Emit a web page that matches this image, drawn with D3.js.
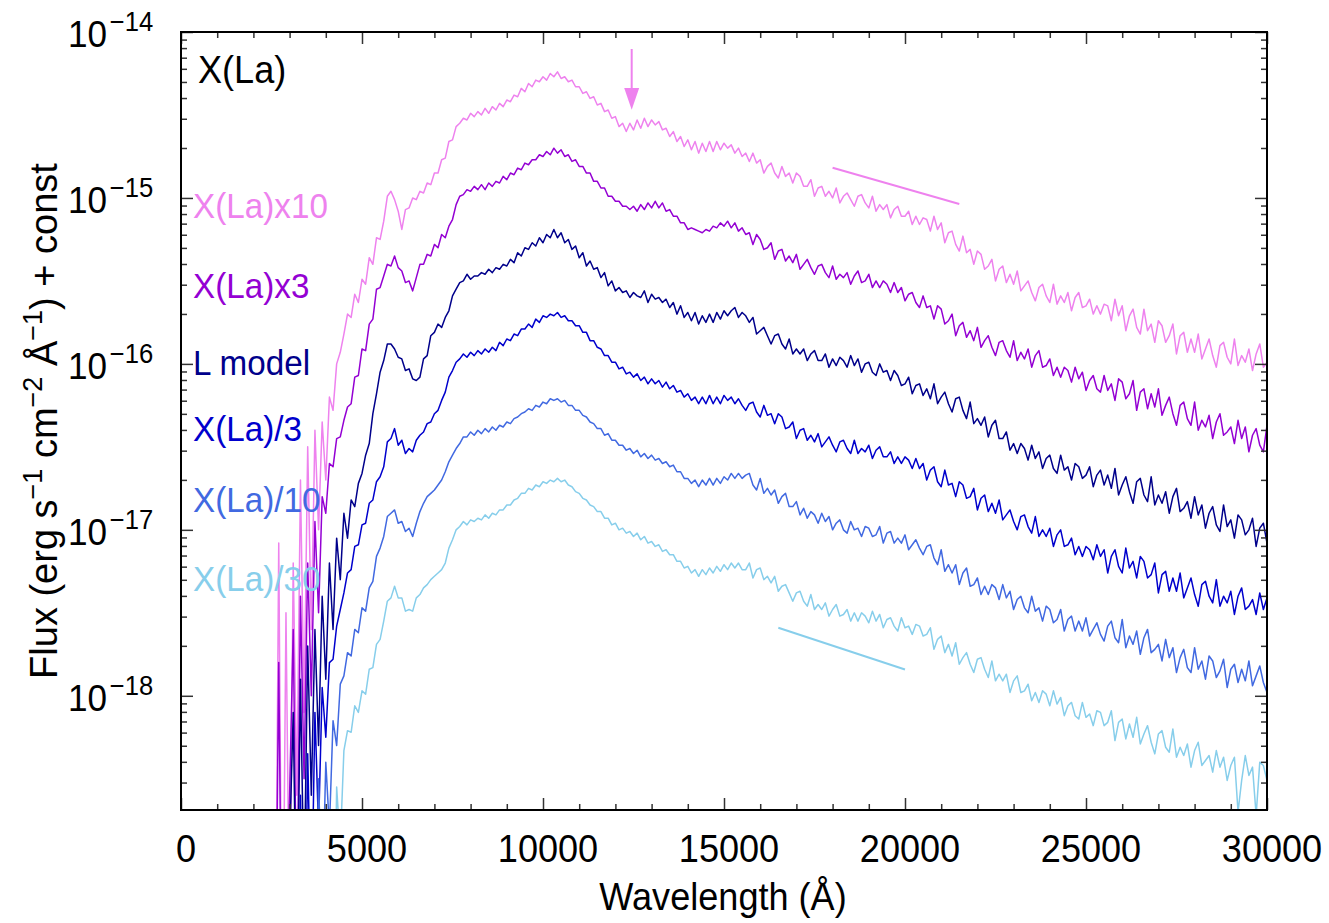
<!DOCTYPE html>
<html><head><meta charset="utf-8">
<script src="https://cdn.jsdelivr.net/npm/d3@7"></script>
<style>
body{margin:0;background:#fff;}
svg{display:block;font-family:"Liberation Sans",Arial,Helvetica,sans-serif;}
</style>
</head><body>
<svg id="chart" width="1329" height="923"></svg>
<script>
// ---------- DATA ----------
const WL_START = 2600, WL_END = 30000, WL_STEP = 100;   // wavelength grid (Å)
const xTickValues = [0, 5000, 10000, 15000, 20000, 25000, 30000];
const xTickLabels = ["0", "5000", "10000", "15000", "20000", "25000", "30000"];
const yTickExponents = [-14, -15, -16, -17, -18];
const seriesNames = ["X(La)x10", "X(La)x3", "L model", "X(La)/3", "X(La)/10", "X(La)/30"];
const seriesColors = ["#ee82ee", "#9400d3", "#00008b", "#0000cd", "#4169e1", "#87ceeb"];
const panelTitle = "X(La)";

// log10 flux (erg s^-1 cm^-2 Å^-1) + const, one value per grid wavelength
const logXLa10 = [
-20,-17.08,-20,-17.5,-19.5,-17.2,-18.6,-16.7,-18.1,-16.5,
-17.6,-16.4,-17.0,-16.35,-16.7,-16.2,-16.28,-16.0,-15.93,-15.82,
-15.70,-15.72,-15.58,-15.63,-15.49,-15.52,-15.36,-15.40,-15.24,-15.25,
-15.14,-14.99,-14.96,-15.01,-15.08,-15.19,-15.07,-15.06,-15.00,-15.01,
-14.96,-14.97,-14.91,-14.92,-14.85,-14.85,-14.77,-14.76,-14.66,-14.65,
-14.57,-14.55,-14.52,-14.53,-14.49,-14.51,-14.48,-14.50,-14.46,-14.49,
-14.45,-14.47,-14.43,-14.45,-14.41,-14.42,-14.38,-14.39,-14.34,-14.36,
-14.31,-14.33,-14.29,-14.30,-14.27,-14.29,-14.25,-14.27,-14.24,-14.28,
-14.27,-14.30,-14.29,-14.33,-14.33,-14.37,-14.36,-14.40,-14.39,-14.44,
-14.43,-14.48,-14.47,-14.52,-14.51,-14.57,-14.55,-14.60,-14.55,-14.59,
-14.53,-14.58,-14.52,-14.57,-14.53,-14.56,-14.54,-14.59,-14.58,-14.63,
-14.60,-14.66,-14.63,-14.69,-14.65,-14.71,-14.66,-14.73,-14.67,-14.72,
-14.66,-14.72,-14.66,-14.71,-14.67,-14.70,-14.68,-14.73,-14.70,-14.75,
-14.73,-14.78,-14.73,-14.79,-14.77,-14.85,-14.81,-14.79,-14.85,-14.88,
-14.81,-14.87,-14.85,-14.91,-14.85,-14.87,-14.93,-14.93,-14.89,-14.99,
-14.94,-14.93,-14.99,-14.96,-15.00,-14.94,-15.03,-14.99,-14.97,-15.01,
-15.05,-14.99,-14.98,-15.03,-15.06,-14.99,-15.08,-15.04,-15.07,-15.04,
-15.12,-15.07,-15.05,-15.11,-15.11,-15.08,-15.16,-15.11,-15.16,-15.12,
-15.13,-15.20,-15.11,-15.19,-15.15,-15.27,-15.21,-15.20,-15.28,-15.32,
-15.23,-15.33,-15.31,-15.40,-15.32,-15.34,-15.43,-15.41,-15.37,-15.50,
-15.43,-15.41,-15.51,-15.46,-15.52,-15.44,-15.56,-15.53,-15.50,-15.57,
-15.62,-15.54,-15.52,-15.59,-15.63,-15.52,-15.64,-15.59,-15.63,-15.57,
-15.68,-15.60,-15.57,-15.66,-15.65,-15.61,-15.70,-15.65,-15.70,-15.64,
-15.65,-15.74,-15.61,-15.71,-15.65,-15.80,-15.71,-15.67,-15.78,-15.82,
-15.67,-15.80,-15.76,-15.87,-15.74,-15.77,-15.87,-15.83,-15.76,-15.94,
-15.83,-15.81,-15.93,-15.85,-15.93,-15.82,-15.97,-15.91,-15.85,-15.95,
-16.02,-15.89,-15.87,-15.96,-16.00,-15.85,-16.01,-15.95,-15.99,-15.91,
-16.04,-15.94,-15.88,-16.02,-15.99
];
const logXLa3 = [
-20,-17.8,-20,-19.3,-18.6,-17.6,-19.4,-17.4,-18.5,-17.2,
-18.0,-16.95,-17.5,-16.8,-16.9,-16.6,-16.62,-16.45,-16.44,-16.34,
-16.26,-16.24,-16.08,-16.07,-15.91,-15.92,-15.76,-15.73,-15.55,-15.54,
-15.47,-15.40,-15.41,-15.35,-15.42,-15.44,-15.51,-15.50,-15.56,-15.48,
-15.40,-15.40,-15.34,-15.35,-15.28,-15.30,-15.22,-15.24,-15.17,-15.13,
-15.04,-14.99,-14.98,-14.95,-14.96,-14.93,-14.95,-14.92,-14.95,-14.91,
-14.93,-14.90,-14.91,-14.87,-14.89,-14.85,-14.86,-14.82,-14.83,-14.79,
-14.80,-14.77,-14.77,-14.74,-14.75,-14.72,-14.74,-14.70,-14.73,-14.71,
-14.75,-14.74,-14.78,-14.77,-14.81,-14.81,-14.85,-14.85,-14.90,-14.90,
-14.94,-14.94,-14.99,-14.99,-15.02,-15.02,-15.05,-15.05,-15.07,-15.05,
-15.08,-15.04,-15.07,-15.03,-15.06,-15.02,-15.06,-15.03,-15.08,-15.07,
-15.11,-15.11,-15.15,-15.15,-15.19,-15.18,-15.19,-15.20,-15.21,-15.19,
-15.20,-15.17,-15.18,-15.15,-15.17,-15.14,-15.18,-15.15,-15.20,-15.18,
-15.22,-15.21,-15.28,-15.22,-15.25,-15.31,-15.30,-15.27,-15.37,-15.32,
-15.31,-15.38,-15.35,-15.39,-15.34,-15.43,-15.40,-15.37,-15.42,-15.46,
-15.41,-15.40,-15.45,-15.48,-15.41,-15.49,-15.46,-15.48,-15.45,-15.52,
-15.47,-15.44,-15.51,-15.50,-15.46,-15.54,-15.50,-15.54,-15.50,-15.52,
-15.57,-15.51,-15.57,-15.54,-15.62,-15.58,-15.57,-15.63,-15.66,-15.59,
-15.66,-15.65,-15.73,-15.65,-15.67,-15.76,-15.74,-15.70,-15.83,-15.77,
-15.75,-15.84,-15.80,-15.86,-15.78,-15.90,-15.86,-15.83,-15.90,-15.95,
-15.87,-15.86,-15.92,-15.96,-15.86,-15.98,-15.93,-15.97,-15.91,-16.02,
-15.95,-15.92,-16.02,-16.01,-15.97,-16.07,-16.02,-16.08,-16.02,-16.04,
-16.11,-16.02,-16.09,-16.05,-16.16,-16.10,-16.07,-16.15,-16.17,-16.07,
-16.16,-16.12,-16.22,-16.09,-16.11,-16.21,-16.18,-16.10,-16.28,-16.17,
-16.15,-16.27,-16.18,-16.26,-16.15,-16.31,-16.25,-16.20,-16.30,-16.37,
-16.25,-16.23,-16.33,-16.37,-16.23,-16.40,-16.34,-16.38,-16.31,-16.45,
-16.35,-16.30,-16.43,-16.41,-16.38,-16.48,-16.34,-16.45,-16.38,-16.53,
-16.43,-16.39,-16.49,-16.53,-16.37
];
const logLModel = [
-20,-20,-20,-20,-18.9,-18.1,-19.6,-17.9,-19.2,-17.7,
-18.6,-17.6,-18.3,-17.4,-17.9,-17.2,-17.6,-17.05,-17.3,-16.9,
-17.05,-16.82,-16.86,-16.72,-16.66,-16.55,-16.48,-16.30,-16.18,-16.05,
-15.98,-15.88,-15.88,-15.91,-15.96,-15.97,-16.04,-16.03,-16.09,-16.10,
-16.08,-15.97,-15.95,-15.83,-15.81,-15.76,-15.78,-15.72,-15.68,-15.59,
-15.55,-15.51,-15.50,-15.46,-15.49,-15.47,-15.47,-15.45,-15.46,-15.43,
-15.45,-15.42,-15.43,-15.40,-15.41,-15.37,-15.39,-15.33,-15.35,-15.30,
-15.31,-15.27,-15.29,-15.24,-15.27,-15.22,-15.24,-15.19,-15.24,-15.21,
-15.27,-15.25,-15.31,-15.29,-15.36,-15.33,-15.41,-15.38,-15.43,-15.42,
-15.48,-15.45,-15.53,-15.50,-15.56,-15.54,-15.57,-15.56,-15.60,-15.57,
-15.59,-15.60,-15.56,-15.63,-15.58,-15.61,-15.60,-15.63,-15.61,-15.66,
-15.63,-15.70,-15.65,-15.72,-15.69,-15.74,-15.69,-15.76,-15.71,-15.75,
-15.70,-15.75,-15.69,-15.73,-15.68,-15.71,-15.68,-15.66,-15.72,-15.69,
-15.71,-15.75,-15.72,-15.82,-15.80,-15.78,-15.83,-15.88,-15.83,-15.82,
-15.88,-15.91,-15.85,-15.94,-15.91,-15.94,-15.91,-15.98,-15.94,-15.92,
-15.98,-15.98,-15.94,-16.02,-15.97,-16.01,-15.96,-15.98,-16.02,-15.95,
-16.01,-15.97,-16.05,-16.00,-15.99,-16.05,-16.07,-16.00,-16.05,-16.04,
-16.10,-16.04,-16.07,-16.13,-16.12,-16.08,-16.18,-16.13,-16.12,-16.19,
-16.15,-16.21,-16.12,-16.24,-16.20,-16.17,-16.24,-16.29,-16.21,-16.20,
-16.28,-16.33,-16.23,-16.36,-16.33,-16.37,-16.32,-16.44,-16.37,-16.34,
-16.45,-16.45,-16.41,-16.52,-16.48,-16.54,-16.48,-16.51,-16.58,-16.49,
-16.57,-16.53,-16.63,-16.57,-16.55,-16.63,-16.66,-16.55,-16.64,-16.62,
-16.70,-16.60,-16.62,-16.69,-16.67,-16.62,-16.74,-16.67,-16.64,-16.73,
-16.67,-16.75,-16.63,-16.79,-16.73,-16.68,-16.77,-16.84,-16.71,-16.69,
-16.79,-16.83,-16.68,-16.85,-16.79,-16.84,-16.77,-16.90,-16.80,-16.75,
-16.89,-16.87,-16.83,-16.93,-16.80,-16.91,-16.85,-16.99,-16.90,-16.86,
-16.97,-17.01,-16.85,-16.98,-16.94,-17.05,-16.91,-16.94,-17.03,-17.00,
-16.93,-17.10,-16.99,-16.96,-17.08
];
const logXLaDiv3 = [
-20,-20,-20,-20,-20,-19.2,-20,-18.6,-20,-18.35,
-19.4,-18.1,-18.8,-17.95,-18.25,-17.8,-17.78,-17.58,-17.48,-17.38,
-17.26,-17.24,-17.10,-17.09,-16.97,-16.96,-16.84,-16.82,-16.71,-16.68,
-16.62,-16.47,-16.45,-16.39,-16.49,-16.46,-16.54,-16.51,-16.53,-16.46,
-16.43,-16.41,-16.36,-16.35,-16.30,-16.28,-16.22,-16.17,-16.08,-16.04,
-15.99,-15.97,-15.94,-15.96,-15.93,-15.95,-15.92,-15.94,-15.91,-15.93,
-15.90,-15.92,-15.87,-15.89,-15.85,-15.86,-15.82,-15.83,-15.79,-15.79,
-15.76,-15.78,-15.73,-15.75,-15.71,-15.72,-15.70,-15.71,-15.69,-15.72,
-15.71,-15.74,-15.74,-15.77,-15.77,-15.81,-15.81,-15.86,-15.86,-15.90,
-15.91,-15.95,-15.95,-15.99,-15.99,-16.03,-16.02,-16.06,-16.05,-16.08,
-16.06,-16.10,-16.08,-16.12,-16.09,-16.12,-16.10,-16.14,-16.11,-16.15,
-16.13,-16.17,-16.16,-16.20,-16.18,-16.22,-16.20,-16.24,-16.20,-16.24,
-16.19,-16.24,-16.20,-16.24,-16.19,-16.22,-16.20,-16.24,-16.21,-16.25,
-16.28,-16.24,-16.23,-16.29,-16.32,-16.25,-16.31,-16.30,-16.36,-16.30,
-16.32,-16.39,-16.38,-16.35,-16.45,-16.40,-16.39,-16.46,-16.43,-16.47,
-16.42,-16.50,-16.47,-16.44,-16.49,-16.53,-16.47,-16.46,-16.51,-16.54,
-16.46,-16.54,-16.51,-16.53,-16.49,-16.57,-16.52,-16.50,-16.56,-16.56,
-16.53,-16.60,-16.56,-16.60,-16.56,-16.58,-16.63,-16.57,-16.63,-16.60,
-16.70,-16.64,-16.62,-16.71,-16.74,-16.64,-16.73,-16.72,-16.80,-16.71,
-16.73,-16.81,-16.80,-16.75,-16.88,-16.81,-16.79,-16.89,-16.84,-16.90,
-16.82,-16.94,-16.91,-16.88,-16.95,-17.00,-16.92,-16.91,-16.98,-17.02,
-16.92,-17.04,-17.00,-17.04,-16.99,-17.10,-17.03,-17.00,-17.10,-17.09,
-17.05,-17.15,-17.10,-17.16,-17.10,-17.12,-17.18,-17.09,-17.16,-17.12,
-17.26,-17.16,-17.12,-17.22,-17.26,-17.11,-17.23,-17.19,-17.29,-17.16,
-17.19,-17.29,-17.27,-17.20,-17.38,-17.27,-17.25,-17.37,-17.29,-17.37,
-17.26,-17.41,-17.35,-17.29,-17.39,-17.46,-17.33,-17.31,-17.40,-17.44,
-17.30,-17.46,-17.40,-17.44,-17.37,-17.51,-17.40,-17.35,-17.48,-17.46,
-17.42,-17.51,-17.38,-17.48,-17.41
];
const logXLaDiv10 = [
-20,-20,-20,-20,-20,-20,-19.4,-20,-18.9,-20,
-18.7,-20,-18.5,-19.3,-18.4,-18.8,-18.15,-18.3,-17.93,-17.88,
-17.74,-17.76,-17.60,-17.62,-17.47,-17.49,-17.35,-17.31,-17.16,-17.11,
-17.04,-16.92,-16.90,-16.88,-16.96,-16.95,-17.01,-16.99,-17.04,-16.96,
-16.89,-16.84,-16.80,-16.78,-16.76,-16.73,-16.70,-16.65,-16.59,-16.55,
-16.51,-16.48,-16.44,-16.44,-16.41,-16.43,-16.40,-16.42,-16.39,-16.41,
-16.38,-16.40,-16.37,-16.38,-16.35,-16.36,-16.33,-16.32,-16.30,-16.29,
-16.27,-16.28,-16.25,-16.26,-16.23,-16.24,-16.21,-16.22,-16.21,-16.23,
-16.22,-16.25,-16.25,-16.28,-16.28,-16.31,-16.32,-16.35,-16.36,-16.39,
-16.39,-16.43,-16.42,-16.46,-16.46,-16.49,-16.49,-16.52,-16.51,-16.54,
-16.52,-16.56,-16.54,-16.57,-16.55,-16.58,-16.57,-16.60,-16.59,-16.62,
-16.61,-16.65,-16.65,-16.69,-16.69,-16.72,-16.70,-16.74,-16.70,-16.73,
-16.69,-16.73,-16.69,-16.72,-16.68,-16.70,-16.66,-16.69,-16.66,-16.69,
-16.67,-16.66,-16.73,-16.76,-16.69,-16.78,-16.75,-16.79,-16.76,-16.84,
-16.80,-16.78,-16.86,-16.86,-16.83,-16.91,-16.87,-16.93,-16.89,-16.91,
-16.96,-16.90,-16.95,-16.92,-17.00,-16.96,-16.94,-17.00,-17.02,-16.95,
-17.00,-16.99,-17.04,-16.98,-16.99,-17.04,-17.03,-16.98,-17.08,-17.02,
-17.01,-17.08,-17.05,-17.08,-17.03,-17.12,-17.09,-17.06,-17.11,-17.15,
-17.10,-17.09,-17.17,-17.21,-17.12,-17.25,-17.21,-17.26,-17.21,-17.33,
-17.26,-17.23,-17.34,-17.33,-17.29,-17.39,-17.34,-17.39,-17.33,-17.35,
-17.42,-17.33,-17.41,-17.37,-17.48,-17.42,-17.40,-17.47,-17.50,-17.40,
-17.49,-17.47,-17.55,-17.46,-17.48,-17.56,-17.54,-17.48,-17.61,-17.54,
-17.52,-17.61,-17.55,-17.61,-17.53,-17.64,-17.60,-17.56,-17.63,-17.67,
-17.58,-17.55,-17.65,-17.68,-17.54,-17.71,-17.64,-17.69,-17.61,-17.75,
-17.65,-17.60,-17.74,-17.72,-17.69,-17.79,-17.66,-17.77,-17.71,-17.86,
-17.77,-17.72,-17.83,-17.86,-17.71,-17.84,-17.79,-17.90,-17.76,-17.79,
-17.89,-17.85,-17.78,-17.95,-17.84,-17.81,-17.92,-17.84,-17.91,-17.79,
-17.94,-17.88,-17.82,-17.92,-17.98
];
const logXLaDiv30 = [
-20,-20,-20,-20,-20,-20,-20,-20,-20,-20,
-20,-20,-20,-20,-20,-19.2,-20,-18.55,-18.9,-18.33,
-18.21,-18.22,-18.06,-18.10,-17.97,-17.99,-17.84,-17.83,-17.69,-17.66,
-17.55,-17.43,-17.41,-17.34,-17.41,-17.41,-17.49,-17.48,-17.49,-17.41,
-17.39,-17.35,-17.33,-17.30,-17.28,-17.26,-17.24,-17.20,-17.11,-17.06,
-17.00,-16.98,-16.95,-16.97,-16.94,-16.95,-16.93,-16.94,-16.91,-16.93,
-16.90,-16.91,-16.88,-16.88,-16.85,-16.85,-16.82,-16.81,-16.78,-16.78,
-16.75,-16.76,-16.73,-16.74,-16.71,-16.72,-16.70,-16.71,-16.69,-16.71,
-16.70,-16.73,-16.74,-16.77,-16.78,-16.81,-16.82,-16.85,-16.86,-16.89,
-16.89,-16.93,-16.93,-16.97,-16.96,-17.00,-16.99,-17.02,-17.01,-17.04,
-17.02,-17.06,-17.04,-17.08,-17.07,-17.10,-17.09,-17.13,-17.12,-17.15,
-17.15,-17.19,-17.19,-17.23,-17.22,-17.26,-17.24,-17.28,-17.24,-17.27,
-17.23,-17.26,-17.22,-17.25,-17.21,-17.24,-17.20,-17.23,-17.20,-17.24,
-17.24,-17.20,-17.29,-17.24,-17.23,-17.30,-17.28,-17.32,-17.28,-17.37,
-17.34,-17.33,-17.38,-17.43,-17.38,-17.37,-17.43,-17.46,-17.39,-17.48,
-17.45,-17.48,-17.44,-17.52,-17.48,-17.45,-17.52,-17.51,-17.48,-17.55,
-17.50,-17.55,-17.50,-17.52,-17.56,-17.49,-17.55,-17.51,-17.59,-17.54,
-17.53,-17.58,-17.61,-17.53,-17.59,-17.58,-17.63,-17.57,-17.58,-17.64,
-17.63,-17.59,-17.72,-17.66,-17.64,-17.74,-17.69,-17.76,-17.68,-17.81,
-17.77,-17.74,-17.81,-17.86,-17.78,-17.77,-17.84,-17.89,-17.79,-17.91,
-17.87,-17.91,-17.87,-17.98,-17.91,-17.88,-17.98,-17.97,-17.93,-18.03,
-17.98,-18.04,-17.97,-17.99,-18.06,-17.97,-18.05,-18.01,-18.12,-18.06,
-18.04,-18.12,-18.14,-18.04,-18.13,-18.11,-18.18,-18.09,-18.10,-18.18,
-18.16,-18.09,-18.27,-18.16,-18.14,-18.26,-18.17,-18.25,-18.13,-18.29,
-18.23,-18.18,-18.28,-18.35,-18.23,-18.21,-18.31,-18.34,-18.20,-18.37,
-18.31,-18.36,-18.29,-18.43,-18.33,-18.28,-18.42,-18.39,-18.36,-18.46,
-18.33,-18.43,-18.37,-18.51,-18.42,-18.37,-18.70,-18.51,-18.36,-18.48,
-18.43,-18.72,-18.40,-18.42,-18.51
];
const seriesLogFlux = [logXLa10, logXLa3, logLModel, logXLaDiv3, logXLaDiv10, logXLaDiv30];

// guide segments [λ1, flux1, λ2, flux2] and the arrow marker
const guideLineX10 = [18000, 1.52e-15, 21500, 9.2e-16];
const guideLineDiv30 = [16500, 2.57e-18, 20000, 1.44e-18];
const arrowX10 = [12450, 7.9e-15, 4.6e-15, 3.4e-15]; // λ, tail flux, head-base flux, tip flux

// ---------- LAYOUT ----------
const L = 181, R = 1267, T = 32, B = 810;
const labelCenters = [205, 285, 362, 428, 499, 578];
const SX = 0.95; // horizontal squeeze of the original's lettering

const svg = d3.select("#chart");
const x = d3.scaleLinear().domain([0, 30000]).range([L, R]);
const y = d3.scaleLog().domain([2.05e-19, 1e-14]).range([B, T]);
const wl = d3.range(WL_START, WL_END + 1, WL_STEP);

svg.append("defs").append("clipPath").attr("id", "plotClip")
  .append("rect").attr("x", L).attr("y", T).attr("width", R - L).attr("height", B - T);

// spectra
const line = d3.line()
  .x((d, i) => x(wl[i]))
  .y(d => y(Math.pow(10, d)));
const plot = svg.append("g").attr("clip-path", "url(#plotClip)");
seriesLogFlux.forEach((arr, k) => {
  plot.append("path").datum(arr).attr("d", line)
    .attr("fill", "none").attr("stroke", seriesColors[k])
    .attr("stroke-width", 1.5).attr("stroke-linejoin", "round");
});

// guide lines
[[guideLineX10, seriesColors[0]], [guideLineDiv30, seriesColors[5]]].forEach(([g, c]) => {
  svg.append("line").attr("x1", x(g[0])).attr("y1", y(g[1])).attr("x2", x(g[2])).attr("y2", y(g[3]))
    .attr("stroke", c).attr("stroke-width", 2);
});
// arrow
{
  const ax = x(arrowX10[0]);
  svg.append("line").attr("x1", ax).attr("x2", ax).attr("y1", y(arrowX10[1])).attr("y2", y(arrowX10[2]) + 2)
    .attr("stroke", seriesColors[0]).attr("stroke-width", 2);
  const hb = y(arrowX10[2]), tip = y(arrowX10[3]);
  svg.append("path").attr("d", `M${ax - 7.5},${hb} L${ax + 7.5},${hb} L${ax},${tip} Z`).attr("fill", seriesColors[0]);
}

// ticks (inward, all four sides)
const majorX = d3.range(0, 30001, 5000);
const minorX = d3.range(0, 30001, 1000).filter(v => v % 5000 !== 0);
const majorY = yTickExponents.map(e => Math.pow(10, e));
const minorY = [];
[-19, -18, -17, -16, -15].forEach(e => { for (let m = 2; m <= 9; m++) { const v = m * Math.pow(10, e); if (v >= 2.05e-19 && v <= 1e-14) minorY.push(v); } });
function addAxis(gen, tr) {
  const g = svg.append("g").attr("transform", tr).call(gen);
  g.select(".domain").remove();
  g.selectAll("line").attr("stroke", "#333").attr("stroke-width", 1.5);
}
addAxis(d3.axisBottom(x).tickValues(majorX).tickSize(-12).tickFormat(""), `translate(0,${B})`);
addAxis(d3.axisBottom(x).tickValues(minorX).tickSize(-6).tickFormat(""), `translate(0,${B})`);
addAxis(d3.axisTop(x).tickValues(majorX).tickSize(-12).tickFormat(""), `translate(0,${T})`);
addAxis(d3.axisTop(x).tickValues(minorX).tickSize(-6).tickFormat(""), `translate(0,${T})`);
addAxis(d3.axisLeft(y).tickValues(majorY).tickSize(-12).tickFormat(""), `translate(${L},0)`);
addAxis(d3.axisLeft(y).tickValues(minorY).tickSize(-6).tickFormat(""), `translate(${L},0)`);
addAxis(d3.axisRight(y).tickValues(majorY).tickSize(-12).tickFormat(""), `translate(${R},0)`);
addAxis(d3.axisRight(y).tickValues(minorY).tickSize(-6).tickFormat(""), `translate(${R},0)`);

// frame
svg.append("rect").attr("x", L).attr("y", T).attr("width", R - L).attr("height", B - T)
  .attr("fill", "none").attr("stroke", "#000").attr("stroke-width", 2);

// x tick labels
xTickValues.forEach((v, i) => {
  svg.append("text").attr("transform", `translate(${x(v) + 5},862) scale(${SX},1)`)
    .attr("text-anchor", "middle").attr("font-size", 38).attr("fill", "#000").text(xTickLabels[i]);
});
// y tick labels
yTickExponents.forEach(e => {
  const ty = y(Math.pow(10, e));
  const g = svg.append("g").attr("transform", `translate(68,${ty}) scale(${SX},1)`);
  g.append("text").attr("x", 0).attr("y", 15).attr("font-size", 37).attr("fill", "#000").text("10");
  g.append("text").attr("x", 44).attr("y", -1).attr("font-size", 27).attr("fill", "#000").text("\u2212" + Math.abs(e));
});

// axis titles
svg.append("text").attr("transform", `translate(723,910) scale(${SX},1)`)
  .attr("text-anchor", "middle").attr("font-size", 38).text("Wavelength (Å)");

{
  const t = svg.append("text").attr("transform", `translate(57,421) rotate(-90)`)
    .attr("text-anchor", "middle").attr("font-size", 38).attr("fill", "#000");
  const parts = [["Flux (erg s", 0], ["\u22121", 1], [" cm", 0], ["\u22122", 1], [" Å", 0], ["\u22121", 1], [") + const", 0]];
  let raised = false;
  parts.forEach(([s, sup]) => {
    const ts = t.append("tspan").text(s);
    if (sup) { ts.attr("font-size", 27).attr("dy", -15); raised = true; }
    else if (raised) { ts.attr("dy", 15); raised = false; }
  });
}

// series labels
svg.append("text").attr("transform", `translate(198,83) scale(${SX},1)`)
  .attr("font-size", 38).attr("fill", "#000").text(panelTitle);
seriesNames.forEach((n, k) => {
  svg.append("text").attr("transform", `translate(193,${labelCenters[k] + 12.5}) scale(${SX},1)`)
    .attr("font-size", 35).attr("fill", seriesColors[k]).text(n);
});
</script>
</body></html>
